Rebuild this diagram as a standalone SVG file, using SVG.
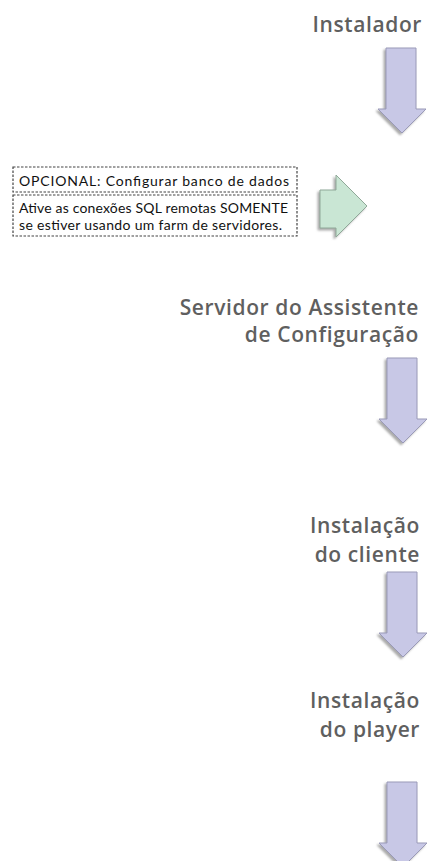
<svg xmlns="http://www.w3.org/2000/svg" width="441" height="861" viewBox="0 0 441 861">
<defs>
<style>
.title{font-family:"Open Sans","Liberation Sans",sans-serif;font-weight:600;font-size:21px;letter-spacing:0.6px;fill:#5f5f5f;text-anchor:end}
.note{font-family:Lato,"Liberation Sans",sans-serif;font-size:14px;fill:#111}
.box{fill:#fff;stroke:#444;stroke-width:1.2;stroke-dasharray:2.5,1.5}
.down{fill:#c8c8e6;stroke:#9a9ab8;stroke-width:1;filter:url(#sh)}
.right{fill:#c9e6d4;stroke:#8fa898;stroke-width:1;filter:url(#sh)}
</style>
<filter id="sh" x="-30%" y="-30%" width="160%" height="160%">
<feDropShadow dx="-2" dy="2" stdDeviation="1" flood-color="#888" flood-opacity="0.7"/>
</filter>
<path id="darrow" d="M0,0 H30 V61 H40 L16,85 L-8,61 H0 Z"/>
</defs>
<g id="connectors">
<use href="#darrow" class="down" x="386" y="48"/>
<use href="#darrow" class="down" x="387" y="358"/>
<use href="#darrow" class="down" x="387" y="572"/>
<use href="#darrow" class="down" x="387" y="782"/>
<path class="right" d="M320,190 H336 V175 L367,206 L336,237 V228 H320 Z"/>
</g>
<g id="instalador">
<text class="title" x="422" y="32">Instalador</text>
</g>
<g id="opcional">
<rect class="box" x="13" y="167" width="284" height="25"/>
<text class="note" x="19" y="186" textLength="270" lengthAdjust="spacing">OPCIONAL: Configurar banco de dados</text>
</g>
<g id="nota-sql">
<rect class="box" x="13" y="195" width="284" height="41"/>
<text class="note" x="19" y="213" textLength="269" lengthAdjust="spacing">Ative as conexões SQL remotas SOMENTE</text>
<text class="note" x="19" y="230" textLength="263" lengthAdjust="spacing">se estiver usando um farm de servidores.</text>
</g>
<g id="servidor">
<text class="title" x="419" y="315">Servidor do Assistente</text>
<text class="title" x="419" y="342">de Configuração</text>
</g>
<g id="cliente">
<text class="title" x="420" y="533">Instalação</text>
<text class="title" x="420" y="562">do cliente</text>
</g>
<g id="player">
<text class="title" x="420" y="708">Instalação</text>
<text class="title" x="420" y="737">do player</text>
</g>
</svg>
